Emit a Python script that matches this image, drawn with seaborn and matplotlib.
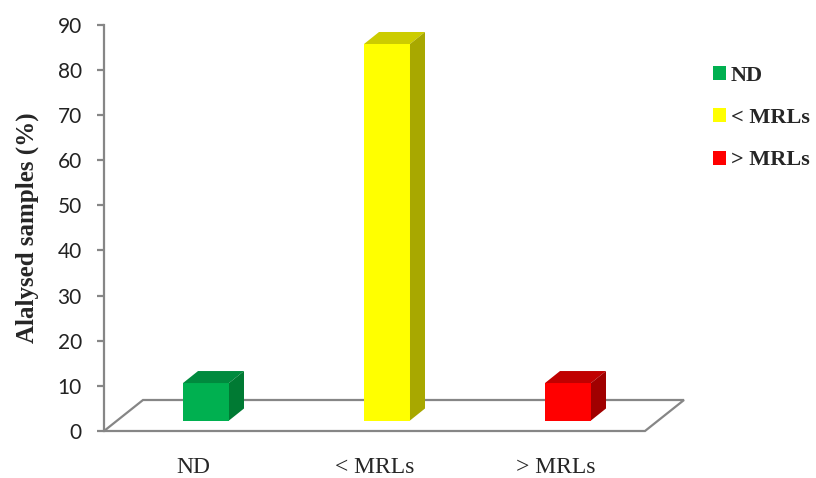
import matplotlib
matplotlib.use("Agg")
import matplotlib.pyplot as plt
import matplotlib.transforms as mtransforms
from matplotlib.patches import Polygon, Patch
import seaborn as sns
import pandas as pd

# ---- data ----
categories = ["ND", "< MRLs", "> MRLs"]
values = [8.3, 83.4, 8.3]
front_colors = ["#00B050", "#FFFF00", "#FF0000"]
top_colors = ["#008A3E", "#CCCC00", "#C00000"]
side_colors = ["#007A33", "#A8A800", "#A00000"]
y_ticks = list(range(0, 91, 10))
y_label = "Alalysed samples (%)"

GRAY = "#868686"
SERIF = "Liberation Serif"

sns.set_theme(style="white")
plt.rcParams["font.family"] = ["Lato", "DejaVu Sans"]

W, H = 816, 478
fig = plt.figure(figsize=(W / 100, H / 100), dpi=100)
ax = fig.add_axes([104 / W, 47 / H, 541 / W, (431 - 24.7) / H])

df = pd.DataFrame({"category": categories, "value": values})
sns.barplot(data=df, x="category", y="value", hue="category",
            palette=front_colors, width=0.254, saturation=1,
            legend=False, ax=ax, zorder=3)

ax.set_ylim(0, 90)
ax.set_xlim(-0.494, 2.495)
ax.set_yticks(y_ticks)

# pixel -> data conversions
fig.canvas.draw()
inv = ax.transData.inverted()
p0 = inv.transform((0, 0))
p1 = inv.transform((1, 1))
dx_per_px = p1[0] - p0[0]
dy_per_px = p1[1] - p0[1]

# bar offset (bars sit partly back on the floor)
bar_off = mtransforms.ScaledTranslation(12.6 / 100, 10.5 / 100, fig.dpi_scale_trans)
bar_tr = ax.transData + bar_off
ddx = 15 * dx_per_px
ddy = 12 * dy_per_px

for i, patch in enumerate(ax.patches[:len(values)]):
    patch.set_transform(bar_tr)
    patch.set_edgecolor("none")
    x0 = patch.get_x()
    w = patch.get_width()
    h = patch.get_height()
    top = Polygon([(x0, h), (x0 + w, h), (x0 + w + ddx, h + ddy), (x0 + ddx, h + ddy)],
                  closed=True, facecolor=top_colors[i], edgecolor="none",
                  transform=bar_tr, zorder=3, clip_on=False)
    side = Polygon([(x0 + w, 0), (x0 + w + ddx, ddy), (x0 + w + ddx, h + ddy), (x0 + w, h)],
                   closed=True, facecolor=side_colors[i], edgecolor="none",
                   transform=bar_tr, zorder=3, clip_on=False)
    ax.add_patch(top)
    ax.add_patch(side)

# floor
xl, xr = ax.get_xlim()
fdx = 39 * dx_per_px
fdy = 31 * dy_per_px
floor = Polygon([(xl, 0), (xr, 0), (xr + fdx, fdy), (xl + fdx, fdy)], closed=True,
                facecolor="none", edgecolor=GRAY, linewidth=1.6, zorder=1, clip_on=False)
ax.add_patch(floor)

# axes styling
for s in ["top", "right", "bottom"]:
    ax.spines[s].set_visible(False)
ax.spines["left"].set_color(GRAY)
ax.spines["left"].set_linewidth(1.6)
ax.tick_params(axis="y", left=True, direction="out", length=5, width=1.6,
               color=GRAY, labelsize=15, labelcolor="#222222", pad=11)
ax.tick_params(axis="x", bottom=False, length=0, pad=19, labelsize=17)
for lab in ax.get_xticklabels():
    lab.set_fontfamily(SERIF)
ax.set_xlabel("")
ax.set_ylabel(y_label, fontfamily=SERIF, fontweight="bold", fontsize=18, labelpad=13)
ax.grid(False)

handles = [Patch(facecolor=c, edgecolor="none") for c in front_colors]
leg = fig.legend(handles, categories, loc="upper left", bbox_to_anchor=(693 / W, 1 - 46 / H),
                 frameon=False, handlelength=0.6, handleheight=0.6, handletextpad=0.2,
                 labelspacing=1.0, prop={"family": SERIF, "weight": "bold", "size": 16})

fig.savefig("out.png", dpi=100)
